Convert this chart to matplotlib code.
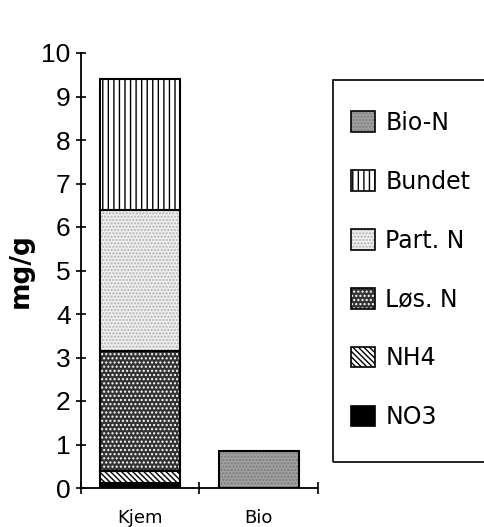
import numpy as np
import matplotlib
matplotlib.use("Agg")
import matplotlib.pyplot as plt
from matplotlib.patches import Patch, Rectangle
from matplotlib.legend_handler import HandlerTuple

# Data (mg/g)
categories = ["Kjem", "Bio"]
components = ["NO3", "NH4", "Løs. N", "Part. N", "Bundet", "Bio-N"]
values = {
    "NO3":     [0.12, 0.0],
    "NH4":     [0.28, 0.0],
    "Løs. N":  [2.75, 0.0],
    "Part. N": [3.25, 0.0],
    "Bundet":  [3.00, 0.0],
    "Bio-N":   [0.0, 0.85],
}
yticks = np.arange(0, 11, 1)

# fill style per component: (facecolor, hatch, hatchcolor)
styles = {
    "NO3":     ("black", "", "black"),
    "NH4":     ("white", "\\\\\\\\\\\\", "black"),
    "Løs. N":  ("#333333", "....", "white"),
    "Part. N": ("#eeeeee", ".....", "#b0b0b0"),
    "Bundet":  ("white", "|||", "black"),
    "Bio-N":   ("#a0a0a0", ".....", "#7a7a7a"),
}

plt.rcParams["font.family"] = ["DejaVu Sans"]
fig = plt.figure(figsize=(4.84, 5.27), dpi=100)
ax = fig.add_axes([81 / 484, 1 - 488 / 527, (318 - 81) / 484, (488 - 53) / 527])

x = np.arange(len(categories)) + 0.5
width = 0.675
bottom = np.zeros(len(categories))
for comp in components:
    v = np.array(values[comp])
    fc, hatch, hc = styles[comp]
    ax.bar(x, v, width, bottom=bottom, color=fc, hatch=hatch,
           edgecolor=hc, linewidth=0)
    ax.bar(x[v > 0], v[v > 0], width, bottom=bottom[v > 0], fill=False,
           edgecolor="black", linewidth=1.5)
    bottom += v

ax.set_xlim(0, 2)
ax.set_ylim(0, 10)
for s in ["top", "right"]:
    ax.spines[s].set_visible(False)
for s in ["left", "bottom"]:
    ax.spines[s].set_linewidth(1.3)

ax.set_yticks(yticks)
ax.set_yticklabels([str(t) for t in yticks], family=["Liberation Sans", "DejaVu Sans"],
                   fontsize=19)
ax.tick_params(axis="y", direction="inout", length=7, width=1.2, pad=4)
ax.set_xticks([0, 1, 2])
ax.set_xticklabels([])
ax.tick_params(axis="x", which="major", direction="inout", length=8, width=1.2)
ax.set_xticks(x, minor=True)
ax.set_xticklabels(categories, minor=True, fontsize=13)
ax.tick_params(axis="x", which="minor", length=0, pad=15)

ax.set_ylabel("mg/g", fontsize=19, fontweight="bold")
ax.yaxis.set_label_coords(-0.2, 0.5)

# legend (reverse stack order)
handles = []
labels = []
for comp in components[::-1]:
    fc, hatch, hc = styles[comp]
    handles.append((Patch(facecolor=fc, hatch=hatch, edgecolor=hc, linewidth=0),
                    Patch(fill=False, edgecolor="black", linewidth=1.2)))
    labels.append(comp)
fig.legend(handles, labels, loc="center left",
           bbox_to_anchor=(351 / 484, 1 - 270 / 527), frameon=False,
           fontsize=17, handlelength=1.0, handleheight=0.95,
           handletextpad=0.45, labelspacing=1.48, borderpad=0, borderaxespad=0,
           handler_map={tuple: HandlerTuple(ndivide=1)})
fig.patches.append(Rectangle((333 / 484, 1 - 462 / 527), 0.4, (462 - 80) / 527,
                             transform=fig.transFigure, fill=False,
                             edgecolor="black", linewidth=1.2))

fig.savefig("out.png", dpi=100)
